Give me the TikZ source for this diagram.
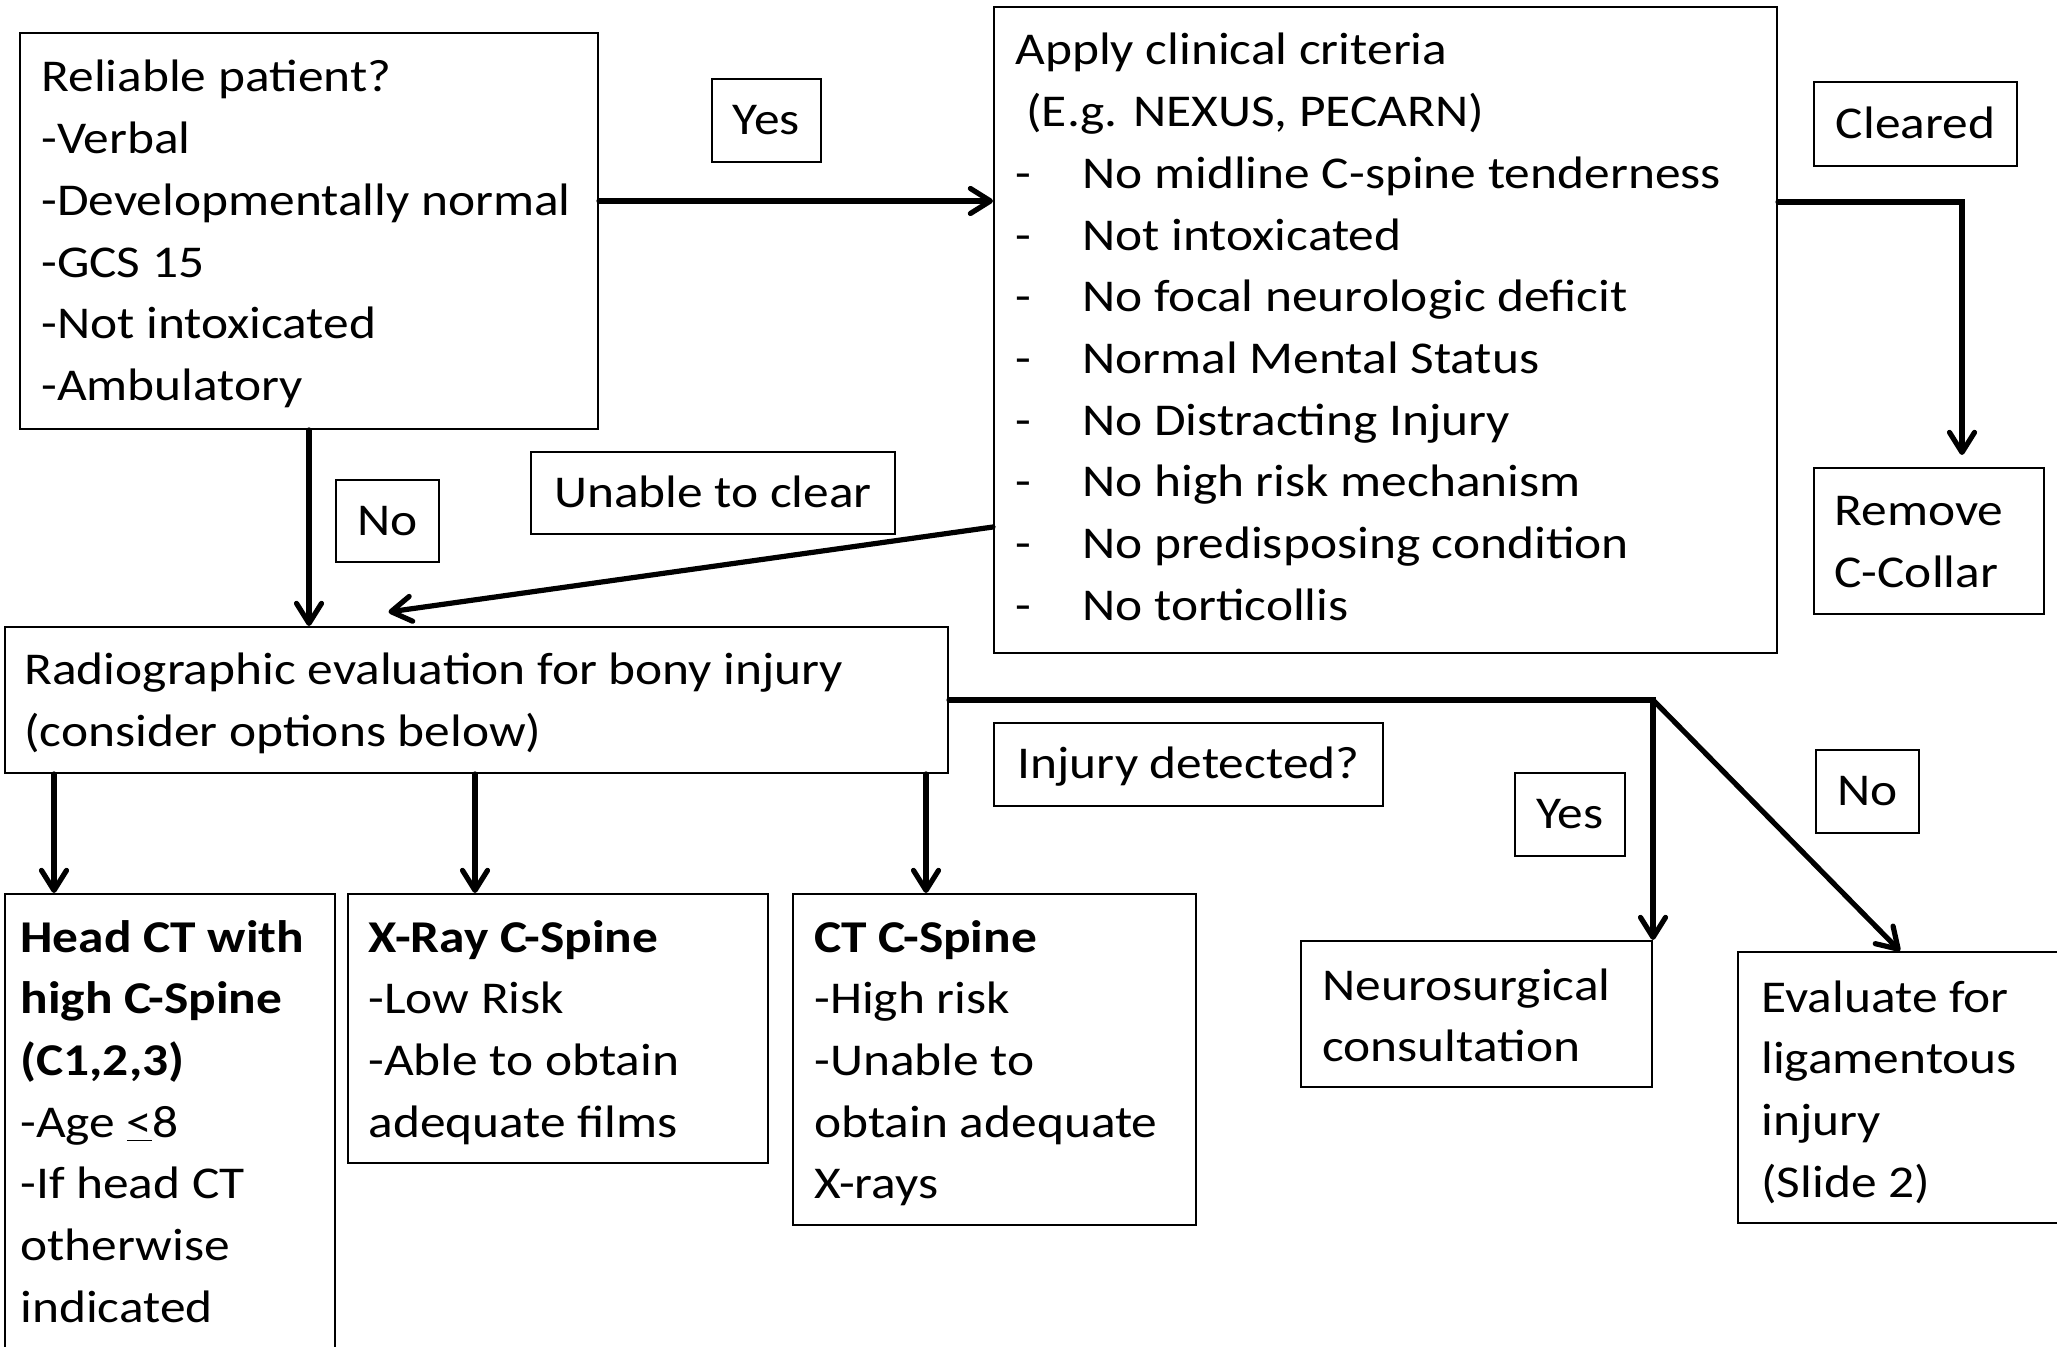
\documentclass[tikz,border=0pt]{standalone}
\usepackage{fontspec}
\setmainfont{Carlito}[FakeStretch=1.13]
\usetikzlibrary{arrows.meta,calc}
\newcommand\myfs{\fontsize{22.75}{30.85}\selectfont}
\newcommand\dashitem[1]{\makebox[33.5pt][l]{-}#1}
\tikzset{
  box/.style={draw, line width=1pt, rectangle, inner sep=0pt},
  lbl/.style={draw, line width=1pt, rectangle, inner sep=0pt, text height=14.4pt, text depth=0pt, font=\myfs},
  txt/.style={inner sep=0pt, anchor=base west, font=\myfs},
  arr/.style={line width=2.6pt, line cap=round, -{Straight Barb[length=10pt,width=12.5pt,round]}}
}
\begin{document}
\begin{tikzpicture}[x=0.5pt,y=-0.5pt]
\useasboundingbox (0,0) rectangle (2057,1347);
\clip (0,0) rectangle (2057,1347);
\fill[white] (0,0) rectangle (2057,1347);
% boxes
\node[box, minimum width=289pt, minimum height=198pt] (reliable) at (309,231) {};
\node[box, minimum width=391.5pt, minimum height=323pt] (apply) at (1385.5,330) {};
\node[box, minimum width=115pt, minimum height=73pt] (remove) at (1929,541) {};
\node[box, minimum width=471.5pt, minimum height=73pt] (radio) at (476.5,700) {};
\node[box, minimum width=165pt, minimum height=253pt] (headct) at (170,1147) {};
\node[box, minimum width=210pt, minimum height=134.5pt] (xray) at (558,1028.5) {};
\node[box, minimum width=201.5pt, minimum height=165.5pt] (ct) at (994.5,1059.5) {};
\node[box, minimum width=175.5pt, minimum height=73pt] (neuro) at (1476.5,1014) {};
\node[box, minimum width=176pt, minimum height=135.5pt] (evaluate) at (1914,1087.5) {};
% labels
\node[lbl, minimum width=54.5pt, minimum height=41.5pt] (yes1) at (766.5,120.5) {Yes};
\node[lbl, minimum width=101.5pt, minimum height=42pt] (cleared) at (1915.5,124) {Cleared};
\node[lbl, minimum width=51.5pt, minimum height=41pt] (no1) at (387.5,521) {No};
\node[lbl, minimum width=182pt, minimum height=41pt] (unable) at (713,493) {Unable to clear};
\node[lbl, minimum width=194.5pt, minimum height=41.5pt] (injury) at (1188.5,764.5) {Injury detected?};
\node[lbl, minimum width=55pt, minimum height=41.5pt] (yes2) at (1570,814.5) {Yes};
\node[lbl, minimum width=51.5pt, minimum height=41.5pt] (no2) at (1867.5,791.5) {No};
% texts
\node[txt] (reliabletxt) at (41,92) {\parbox[t]{300pt}{Reliable patient?\\-Verbal\\-Developmentally normal\\-GCS 15\\-Not intoxicated\\-Ambulatory}};
\node[txt] (applytxt) at (1015,65) {\parbox[t]{400pt}{Apply clinical criteria\\\hspace*{5.5pt}(E.g. NEXUS, PECARN)\\\dashitem{No midline C-spine tenderness}\\\dashitem{Not intoxicated}\\\dashitem{No focal neurologic deficit}\\\dashitem{Normal Mental Status}\\\dashitem{No Distracting Injury}\\\dashitem{No high risk mechanism}\\\dashitem{No predisposing condition}\\\dashitem{No torticollis}}};
\node[txt] (removetxt) at (1834,526) {\parbox[t]{150pt}{Remove\\C-Collar}};
\node[txt] (radiotxt) at (24,685) {\parbox[t]{450pt}{Radiographic evaluation for bony injury\\(consider options below)}};
\node[txt] (headcttxt) at (20,952) {\parbox[t]{200pt}{\textbf{Head CT with}\\\textbf{high C-Spine}\\\textbf{(C1,2,3)}\\-Age \underline{<}8\\-If head CT\\otherwise\\indicated}};
\node[txt] (xraytxt) at (368,952) {\parbox[t]{250pt}{\textbf{X-Ray C-Spine}\\-Low Risk\\-Able to obtain\\adequate films}};
\node[txt] (cttxt) at (814,952) {\parbox[t]{250pt}{\textbf{CT C-Spine}\\-High risk\\-Unable to\\obtain adequate\\X-rays}};
\node[txt] (neurotxt) at (1322,1000) {\parbox[t]{200pt}{Neurosurgical\\consultation}};
\node[txt] (evaluatetxt) at (1761,1012) {\parbox[t]{200pt}{Evaluate for\\ligamentous\\injury\\(Slide 2)}};
% connectors
\draw[arr] ([yshift=15pt]reliable.east) -- ([yshift=15pt]reliable.east -| apply.west);
\draw[arr] (reliable.south) -- (reliable.south |- radio.north);
\draw[arr] ([yshift=-98.5pt]apply.west) -- ([xshift=-44pt,yshift=7pt]radio.north);
\draw[arr] ([yshift=64pt]apply.east) -| ([xshift=16.5pt,yshift=6pt]remove.north);
\draw[arr] ([xshift=-58pt]headct.north |- radio.south) -- ([xshift=-58pt]headct.north);
\draw[arr] ([xshift=-41.5pt]xray.north |- radio.south) -- ([xshift=-41.5pt]xray.north);
\draw[arr] ([xshift=-34.25pt]ct.north |- radio.south) -- ([xshift=-34.25pt]ct.north);
\draw[arr] (radio.east) -| (neuro.north east);
\draw[arr] (radio.east -| neuro.north east) -- ([xshift=-7pt]evaluate.north);
\end{tikzpicture}
\end{document}
